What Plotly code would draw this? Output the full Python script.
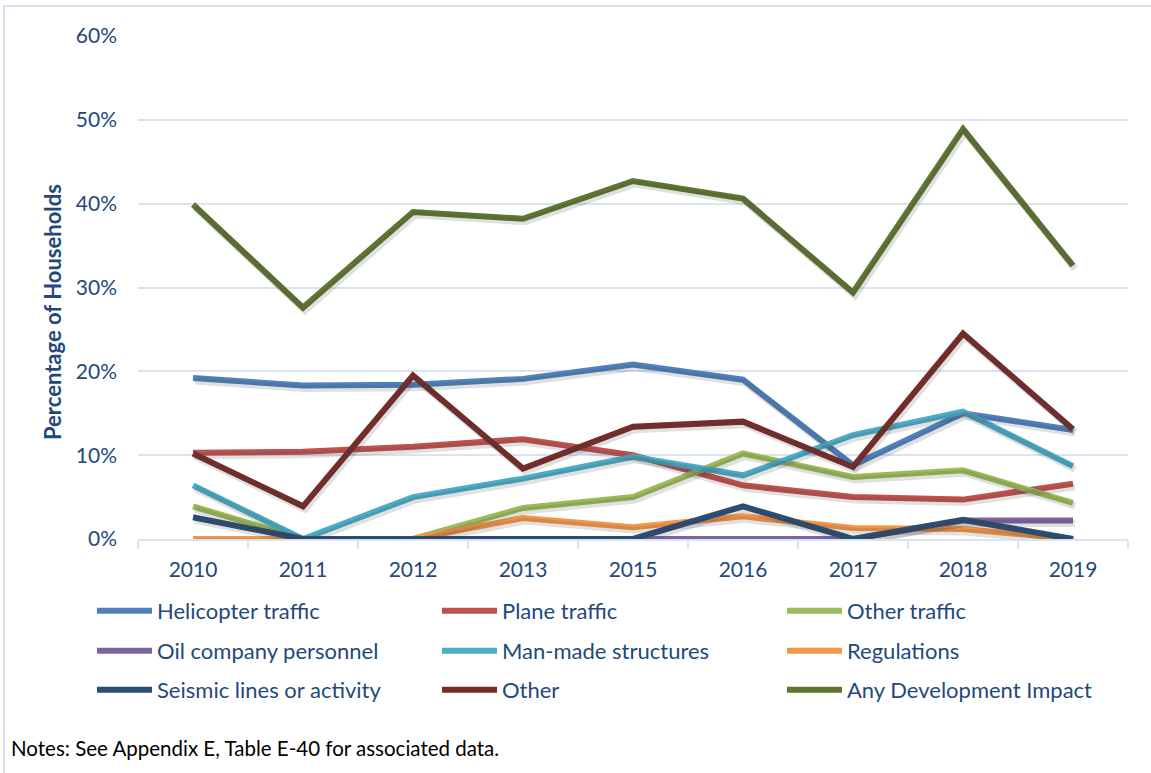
import plotly.graph_objects as go

# Survey years (category axis, 2014 not surveyed)
years = ["2010", "2011", "2012", "2013", "2015", "2016", "2017", "2018", "2019"]

# Percentage of households reporting each development impact
helicopter_traffic = [19.2, 18.3, 18.4, 19.1, 20.8, 19.0, 8.8, 15.0, 13.0]
plane_traffic = [10.3, 10.4, 11.0, 11.9, 10.0, 6.4, 5.0, 4.7, 6.6]
other_traffic = [3.9, 0.0, 0.0, 3.7, 5.0, 10.2, 7.4, 8.2, 4.3]
oil_company_personnel = [0.0, 0.0, 0.0, 0.0, 0.0, 0.0, 0.0, 2.2, 2.2]
man_made_structures = [6.4, 0.0, 5.0, 7.2, 9.8, 7.6, 12.4, 15.2, 8.7]
regulations = [0.0, 0.0, 0.0, 2.5, 1.4, 2.7, 1.3, 1.2, 0.0]
seismic_lines = [2.6, 0.0, 0.0, 0.0, 0.0, 3.9, 0.0, 2.3, 0.0]
other = [10.2, 3.9, 19.5, 8.4, 13.4, 14.0, 8.6, 24.5, 13.1]
any_development_impact = [39.9, 27.6, 39.0, 38.2, 42.7, 40.6, 29.4, 48.9, 32.6]

series_names = [
    "Helicopter traffic", "Plane traffic", "Other traffic",
    "Oil company personnel", "Man-made structures", "Regulations",
    "Seismic lines or activity", "Other", "Any Development Impact",
]
series_values = [
    helicopter_traffic, plane_traffic, other_traffic,
    oil_company_personnel, man_made_structures, regulations,
    seismic_lines, other, any_development_impact,
]
series_colors = [
    "#4F81BD", "#C0504D", "#9BBB59",
    "#8064A2", "#4BACC6", "#F79646",
    "#2C4D75", "#772C2A", "#5F7530",
]

y_ticks = [0, 10, 20, 30, 40, 50, 60]
y_tick_labels = ["0%", "10%", "20%", "30%", "40%", "50%", "60%"]

# Figure geometry (pixels)
W, H = 1151, 773
ML, MR, MT, MB = 138, 23, 36, 234
PW, PH = W - ML - MR, H - MT - MB

FONT = "Lato"
TEXT_BLUE = "#1F497D"
GRID = "#D9E3F2"


def px_x(px):
    return (px - ML) / PW


def px_y(py):
    return 1 - (py - MT) / PH


fig = go.Figure()

# soft drop shadows drawn on slightly offset overlay axes
shift_x = 2.0 / (PW / len(years))
shift_y = 3.0 / (PH / 60.0)
for vals in series_values:
    fig.add_trace(go.Scatter(
        x=years, y=vals, mode="lines", xaxis="x2", yaxis="y2",
        line=dict(color="rgba(60,60,60,0.16)", width=7),
        showlegend=False, hoverinfo="skip", cliponaxis=False,
    ))

legend_ids = ["legend", "legend", "legend",
              "legend2", "legend2", "legend2",
              "legend3", "legend3", "legend3"]
for name, vals, color, lg in zip(series_names, series_values, series_colors, legend_ids):
    fig.add_trace(go.Scatter(
        x=years, y=vals, name=name, mode="lines",
        line=dict(color=color, width=6),
        cliponaxis=False, legend=lg,
        hovertemplate="%{x}: %{y:.1f}%<extra>" + name + "</extra>",
    ))

legend_common = dict(
    orientation="h", xanchor="left", yanchor="middle",
    x=px_x(92), entrywidth=275, entrywidthmode="pixels",
    font=dict(family=FONT, size=22, color=TEXT_BLUE),
    bgcolor="rgba(0,0,0,0)", itemwidth=55, tracegroupgap=0,
)

fig.update_layout(
    width=W, height=H,
    margin=dict(l=ML, r=MR, t=MT, b=MB, autoexpand=False),
    paper_bgcolor="white", plot_bgcolor="white",
    font=dict(family=FONT, color=TEXT_BLUE),
    xaxis=dict(
        type="category", categoryorder="array", categoryarray=years,
        range=[-0.5, len(years) - 0.5],
        showgrid=False, showline=True, linecolor=GRID, linewidth=2,
        ticks="outside", tickson="boundaries", ticklen=8, tickcolor=GRID, tickwidth=2,
        tickfont=dict(family=FONT, size=21, color=TEXT_BLUE),
        ticklabelstandoff=11, zeroline=False,
    ),
    yaxis=dict(
        range=[0, 60], tickmode="array", tickvals=y_ticks, ticktext=y_tick_labels,
        showgrid=True, gridcolor=GRID, gridwidth=2,
        zeroline=False, showline=False, ticks="",
        tickfont=dict(family=FONT, size=21, color=TEXT_BLUE),
        ticklabelstandoff=20,
    ),
    xaxis2=dict(
        type="category", categoryorder="array", categoryarray=years,
        overlaying="x", range=[-0.5 - shift_x, len(years) - 0.5 - shift_x],
        visible=False,
    ),
    yaxis2=dict(overlaying="y", range=[shift_y, 60 + shift_y], visible=False),
    legend=dict(legend_common, y=px_y(611)),
    legend2=dict(legend_common, y=px_y(651)),
    legend3=dict(legend_common, y=px_y(690)),
    showlegend=True,
    shapes=[dict(
        type="rect", xref="paper", yref="paper",
        x0=px_x(4), x1=px_x(W + 20), y0=px_y(H + 20), y1=px_y(6),
        line=dict(color="#D6E1F0", width=2), fillcolor="rgba(0,0,0,0)", layer="below",
    )],
    annotations=[
        dict(
            text="<b>Percentage of Households</b>", textangle=-90,
            xref="paper", yref="paper", x=px_x(52), y=px_y(312),
            xanchor="center", yanchor="middle", showarrow=False,
            font=dict(family=FONT, size=22, color=TEXT_BLUE),
        ),
        dict(
            text="Notes: See Appendix E, Table E-40 for associated data.",
            xref="paper", yref="paper", x=px_x(9), y=px_y(748),
            xanchor="left", yanchor="middle", showarrow=False,
            font=dict(family=FONT, size=20.5, color="#000000"),
        ),
    ],
)

fig.write_html("out.html")
